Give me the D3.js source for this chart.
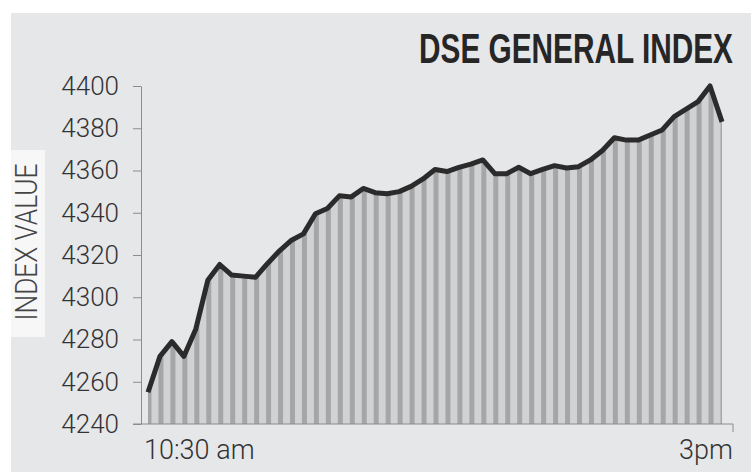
<!DOCTYPE html>
<html>
<head>
<meta charset="utf-8">
<script src="https://cdn.jsdelivr.net/npm/d3@7"></script>
<style>
  html, body { margin: 0; padding: 0; background: #fff; }
  svg { display: block; }
</style>
</head>
<body>
<div id="chart"></div>
<script>
const title = "DSE GENERAL INDEX";
const yLabel = "INDEX VALUE";
const xLabels = ["10:30 am", "3pm"];
const yTicks = [4240, 4260, 4280, 4300, 4320, 4340, 4360, 4380, 4400];

// index value, one per bar
const values = [
    4255, 4272, 4279, 4272, 4285, 4308, 4315.5, 4310.5, 4310, 4309.5,
    4316, 4322, 4327, 4330, 4339.5, 4342, 4348, 4347.5, 4351.5, 4349.5,
    4349, 4350, 4352.5, 4356, 4360.5, 4359.5, 4361.5, 4363, 4365, 4358.5,
    4358.5, 4361.5, 4358.5, 4360.5, 4362.3, 4361.2, 4361.8, 4365, 4369.5, 4375.5,
    4374.4, 4374.4, 4376.8, 4379.2, 4385.5, 4389, 4392.6, 4400, 4383
];

document.addEventListener('DOMContentLoaded', function() {
    const width = 754, height = 476;
    const svg = d3.select('#chart').append('svg')
        .attr('width', width)
        .attr('height', height);

    const fontBody = "Roboto, 'Liberation Sans', sans-serif";
    const fontNarrow = "'Liberation Sans Narrow', 'Liberation Sans', sans-serif";

    // squeeze a text horizontally so it fills the given width
    function fitText(sel, target, tx, ty, rot) {
        const w = sel.node().getComputedTextLength();
        const k = w > 0 ? target / w : 1;
        sel.attr('transform', 'translate(' + tx + ',' + ty + ')' + (rot ? ' rotate(' + rot + ')' : '') + ' scale(' + k + ',1)');
    }

    // grey panel
    svg.append('rect')
        .attr('x', 11).attr('y', 13)
        .attr('width', 740).attr('height', 459)
        .attr('fill', '#e6e7e9');

    // light box behind the axis title
    svg.append('rect')
        .attr('x', 11).attr('y', 150)
        .attr('width', 34).attr('height', 187)
        .attr('fill', '#f7f7f8');

    const y = d3.scaleLinear().domain([4240, 4400]).range([424, 86]);
    const x = d3.scaleLinear().domain([0, values.length - 1]).range([148, 722]);

    const area = d3.area()
        .x((d, i) => x(i))
        .y0(y(4240))
        .y1(d => y(d));

    const line = d3.line()
        .x((d, i) => x(i))
        .y(d => y(d));

    svg.append('clipPath').attr('id', 'under')
        .append('path')
        .attr('d', area(values));

    svg.append('path')
        .attr('d', area(values))
        .attr('fill', '#d1d2d4');

    const barW = 5;
    svg.append('g')
        .attr('clip-path', 'url(#under)')
        .selectAll('rect')
        .data(values)
        .enter().append('rect')
        .attr('x', (d, i) => x(i) - barW / 2 + 1)
        .attr('y', y(4400) - 10)
        .attr('width', barW)
        .attr('height', y(4240) - y(4400) + 10)
        .attr('fill', '#a5a6a8');

    svg.append('path')
        .attr('d', line(values))
        .attr('fill', 'none')
        .attr('stroke', '#2b2b2c')
        .attr('stroke-width', 5)
        .attr('stroke-linejoin', 'round');

    // y axis
    const yAxis = svg.append('g')
        .attr('transform', 'translate(141,0)')
        .call(d3.axisLeft(y).tickValues(yTicks).tickFormat(d3.format('d'))
            .tickSize(8).tickSizeOuter(0).tickPadding(14));
    yAxis.select('.domain').attr('stroke', '#8c8c8e');
    yAxis.selectAll('.tick line').attr('stroke', '#8c8c8e');
    yAxis.selectAll('.tick text')
        .attr('fill', '#333335')
        .style('font-family', fontBody)
        .style('font-weight', 300)
        .style('font-size', '26px');

    // x baseline with end tick
    svg.append('line')
        .attr('x1', 133).attr('x2', 733)
        .attr('y1', y(4240)).attr('y2', y(4240))
        .attr('stroke', '#8c8c8e');
    svg.append('line')
        .attr('x1', 733).attr('x2', 733)
        .attr('y1', y(4240)).attr('y2', y(4240) + 8)
        .attr('stroke', '#8c8c8e');

    svg.selectAll('.xLabel')
        .data(xLabels)
        .enter().append('text')
        .attr('class', 'xLabel')
        .text(d => d)
        .attr('x', (d, i) => i === 0 ? 144 : 733)
        .attr('y', 459)
        .style('text-anchor', (d, i) => i === 0 ? 'start' : 'end')
        .attr('fill', '#333335')
        .style('font-family', fontBody)
        .style('font-weight', 300)
        .style('font-size', '27px');

    const yTitle = svg.append('text')
        .text(yLabel)
        .style('text-anchor', 'middle')
        .attr('fill', '#444446')
        .style('font-family', fontBody)
        .style('font-weight', 300)
        .style('font-size', '31px');
    fitText(yTitle, 157, 37, 242, -90);

    const head = svg.append('text')
        .text(title)
        .style('text-anchor', 'end')
        .attr('fill', '#262627')
        .style('font-family', fontNarrow)
        .style('font-weight', 'bold')
        .style('font-size', '42px');
    fitText(head, 314, 733, 63, 0);
});
</script>
</body>
</html>
